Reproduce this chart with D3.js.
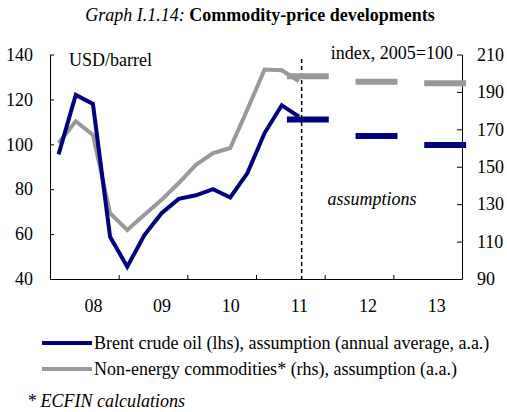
<!DOCTYPE html>
<html>
<head>
<meta charset="utf-8">
<script src="https://cdn.jsdelivr.net/npm/d3@7"></script>
<style>
  body { margin: 0; background: #fff; }
  text { font-family: "Liberation Serif", "Times New Roman", serif; }
</style>
</head>
<body>
<div id="chart"></div>
<script>
/* DATA */
// quarterly, 2008 Q1 .. 2011 Q3
const quarters = ["2008Q1","2008Q2","2008Q3","2008Q4","2009Q1","2009Q2","2009Q3","2009Q4",
  "2010Q1","2010Q2","2010Q3","2010Q4","2011Q1","2011Q2","2011Q3"];
const brent = [95.5, 122, 118, 58.8, 45.5, 59.6, 69.3, 75.7, 77.3, 80, 76.3, 87.2, 105, 117.4, 112.3];
const nonEnergy = [162.7, 174.3, 167, 125.2, 116.2, 124.3, 132.3, 141.3, 151, 157.3, 160, 180.7, 202, 201.6, 195.7];

// annual average assumptions
const assumptionYears = [2011, 2012, 2013];
const brentAssumption = [111.1, 103.7, 99.7];
const nonEnergyAssumption = [198.4, 195.4, 194.6];

const yearLabels = ["08", "09", "10", "11", "12", "13"];
const leftTicks = [40, 60, 80, 100, 120, 140];
const rightTicks = [90, 110, 130, 150, 170, 190, 210];

const width = 507, height = 412;
const margin = { top: 54.5, bottom: 133, left: 50, right: 45 };
const blue = "#000080", gray = "#999999";
const fs = 18;

// quarter string -> fractional year at quarter centre
const qDate = q => +q.slice(0, 4) + (+q.slice(5) - 0.5) / 4;

const svg = d3.select("#chart").append("svg")
  .attr("width", width)
  .attr("height", height);

/* SCALES */
const x = d3.scaleLinear()
  .domain([2008, 2014])
  .range([margin.left, width - margin.right]);

const yLeft = d3.scaleLinear()
  .domain([40, 140])
  .range([height - margin.bottom, margin.top]);

const yRight = d3.scaleLinear()
  .domain([90, 210])
  .range([height - margin.bottom, margin.top]);

/* TITLE */
const title = svg.append("text")
  .attr("x", 260)
  .attr("y", 21)
  .attr("text-anchor", "middle")
  .attr("font-size", fs);
title.append("tspan").attr("font-style", "italic").text("Graph I.1.14: ");
title.append("tspan").attr("font-weight", "bold").text("Commodity-price developments");

/* AXES */
svg.append("g")
  .attr("transform", `translate(${margin.left},0)`)
  .call(d3.axisLeft(yLeft).tickValues(leftTicks).tickSizeInner(-4).tickSizeOuter(0).tickPadding(17));

svg.append("g")
  .attr("transform", `translate(${width - margin.right},0)`)
  .call(d3.axisRight(yRight).tickValues(rightTicks).tickSizeInner(-5).tickSizeOuter(0).tickPadding(15));

svg.append("g")
  .attr("transform", `translate(0,${height - margin.bottom})`)
  .call(d3.axisBottom(x).tickValues(d3.range(2008, 2015)).tickSizeInner(-4).tickSizeOuter(0).tickFormat(""));

// year labels centred under the third quarter
svg.append("g")
  .attr("transform", `translate(0,${height - margin.bottom})`)
  .call(d3.axisBottom(x)
    .tickValues(yearLabels.map(d => 2000 + +d + 0.625))
    .tickFormat((d, i) => yearLabels[i])
    .tickSize(0).tickPadding(20))
  .call(g => g.select(".domain").remove());

svg.selectAll(".tick text")
  .attr("font-family", "Liberation Serif, Times New Roman, serif")
  .attr("font-size", fs)
  .attr("fill", "#000");
svg.selectAll(".domain, .tick line").attr("stroke", "#000");

/* UNIT LABELS */
svg.append("text")
  .attr("x", 69).attr("y", 66)
  .attr("font-size", fs)
  .text("USD/barrel");

svg.append("text")
  .attr("x", 453).attr("y", 59)
  .attr("text-anchor", "end")
  .attr("font-size", fs)
  .text("index, 2005=100");

svg.append("text")
  .attr("x", 372).attr("y", 205)
  .attr("text-anchor", "middle")
  .attr("font-size", fs)
  .attr("font-style", "italic")
  .text("assumptions");

/* FORECAST DIVIDER */
svg.append("line")
  .attr("x1", x(2011.665)).attr("x2", x(2011.665))
  .attr("y1", yLeft(138)).attr("y2", yLeft(40))
  .attr("stroke", "#000")
  .attr("stroke-width", 1.5)
  .attr("stroke-dasharray", "4,3");

/* LINES */
const lineLeft = d3.line().x((d, i) => x(qDate(quarters[i]))).y(d => yLeft(d));
const lineRight = d3.line().x((d, i) => x(qDate(quarters[i]))).y(d => yRight(d));

svg.append("path")
  .datum(nonEnergy)
  .attr("d", lineRight)
  .attr("fill", "none")
  .attr("stroke", gray)
  .attr("stroke-width", 4);

svg.append("path")
  .datum(brent)
  .attr("d", lineLeft)
  .attr("fill", "none")
  .attr("stroke", blue)
  .attr("stroke-width", 4);

/* ASSUMPTION BARS */
svg.selectAll(".barGray")
  .data(nonEnergyAssumption)
  .join("line")
  .attr("class", "barGray")
  .attr("x1", (d, i) => x(assumptionYears[i] + 0.45))
  .attr("x2", (d, i) => x(assumptionYears[i] + 1.06))
  .attr("y1", d => yRight(d))
  .attr("y2", d => yRight(d))
  .attr("stroke", gray)
  .attr("stroke-width", 6);

svg.selectAll(".barBlue")
  .data(brentAssumption)
  .join("line")
  .attr("class", "barBlue")
  .attr("x1", (d, i) => x(assumptionYears[i] + 0.45))
  .attr("x2", (d, i) => x(assumptionYears[i] + 1.06))
  .attr("y1", d => yLeft(d))
  .attr("y2", d => yLeft(d))
  .attr("stroke", blue)
  .attr("stroke-width", 6);

/* LEGEND */
const legend = [
  { label: "Brent crude oil (lhs), assumption (annual average, a.a.)", color: blue, y: 343 },
  { label: "Non-energy commodities* (rhs), assumption (a.a.)", color: gray, y: 369 }
];

const lg = svg.selectAll(".legend")
  .data(legend)
  .join("g")
  .attr("class", "legend");

lg.append("line")
  .attr("x1", 42).attr("x2", 92)
  .attr("y1", d => d.y).attr("y2", d => d.y)
  .attr("stroke", d => d.color)
  .attr("stroke-width", 4);

lg.append("text")
  .attr("x", 94)
  .attr("y", d => d.y + 6)
  .attr("font-size", fs)
  .text(d => d.label);

/* FOOTNOTE */
svg.append("text")
  .attr("x", 27).attr("y", 407)
  .attr("font-size", fs)
  .attr("font-style", "italic")
  .text("* ECFIN calculations");
</script>
</body>
</html>
